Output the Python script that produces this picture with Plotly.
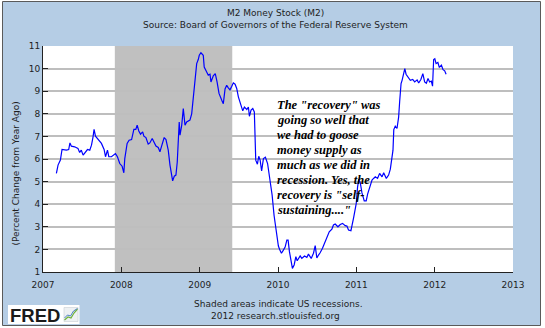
import plotly.graph_objects as go

# M2 money stock, percent change from year ago (weekly), decimal years
years = [
    2007.171, 2007.192, 2007.222, 2007.243, 2007.299, 2007.328, 2007.344, 2007.362,
    2007.404, 2007.446, 2007.468, 2007.489, 2007.512, 2007.542, 2007.568, 2007.597,
    2007.619, 2007.639, 2007.652, 2007.670, 2007.695, 2007.724, 2007.746, 2007.780,
    2007.798, 2007.823, 2007.840, 2007.874, 2007.894, 2007.925, 2007.950, 2007.980,
    2008.010, 2008.032, 2008.044, 2008.074, 2008.099, 2008.131, 2008.160, 2008.185,
    2008.202, 2008.223, 2008.245, 2008.272, 2008.288, 2008.314, 2008.343, 2008.364,
    2008.394, 2008.416, 2008.442, 2008.471, 2008.493, 2008.514, 2008.547, 2008.570,
    2008.599, 2008.621, 2008.642, 2008.655, 2008.676, 2008.697, 2008.714, 2008.726,
    2008.739, 2008.749, 2008.771, 2008.791, 2008.813, 2008.834, 2008.876, 2008.898,
    2008.918, 2008.940, 2008.962, 2008.982, 2008.995, 2009.016, 2009.033, 2009.046,
    2009.058, 2009.090, 2009.110, 2009.132, 2009.144, 2009.174, 2009.199, 2009.222,
    2009.247, 2009.282, 2009.302, 2009.324, 2009.345, 2009.366, 2009.387, 2009.410,
    2009.430, 2009.452, 2009.473, 2009.494, 2009.528, 2009.550, 2009.571, 2009.602,
    2009.622, 2009.635, 2009.656, 2009.678, 2009.698, 2009.707, 2009.716, 2009.737,
    2009.754, 2009.772, 2009.791, 2009.814, 2009.839, 2009.867, 2009.899, 2009.925,
    2009.950, 2009.969, 2009.984, 2010.005, 2010.021, 2010.044, 2010.069, 2010.091,
    2010.113, 2010.129, 2010.146, 2010.163, 2010.184, 2010.206, 2010.228, 2010.245,
    2010.261, 2010.283, 2010.304, 2010.338, 2010.368, 2010.389, 2010.424, 2010.453,
    2010.475, 2010.496, 2010.517, 2010.538, 2010.568, 2010.603, 2010.625, 2010.654,
    2010.688, 2010.708, 2010.730, 2010.765, 2010.795, 2010.824, 2010.858, 2010.880,
    2010.900, 2010.931, 2010.965, 2010.999, 2011.016, 2011.031, 2011.050, 2011.072,
    2011.101, 2011.126, 2011.144, 2011.169, 2011.200, 2011.220, 2011.242, 2011.271,
    2011.297, 2011.328, 2011.349, 2011.383, 2011.412, 2011.434, 2011.450, 2011.468,
    2011.478, 2011.497, 2011.519, 2011.540, 2011.553, 2011.571, 2011.584, 2011.604,
    2011.619, 2011.635, 2011.668, 2011.689, 2011.720, 2011.745, 2011.776, 2011.796,
    2011.824, 2011.849, 2011.872, 2011.894, 2011.915, 2011.936, 2011.957, 2011.973,
    2011.987, 2012.002, 2012.018, 2012.041, 2012.060, 2012.086, 2012.107, 2012.128,
    2012.146,
]
m2_change = [
    5.36, 5.73, 5.95, 6.42, 6.39, 6.42, 6.71, 6.57,
    6.54, 6.47, 6.29, 6.39, 6.17, 6.30, 6.42, 6.39,
    6.61, 6.98, 7.31, 7.01, 6.91, 6.80, 6.69, 6.42,
    6.10, 6.39, 6.10, 6.10, 6.17, 6.24, 6.10, 5.80,
    5.68, 5.39, 6.02, 6.69, 6.83, 6.86, 7.31, 7.31,
    7.50, 7.24, 7.10, 7.20, 7.01, 6.95, 6.66, 6.71,
    6.91, 6.76, 6.57, 6.51, 6.32, 6.57, 6.95, 6.86,
    6.39, 5.73, 5.21, 5.03, 5.24, 5.29, 5.87, 7.05,
    7.64, 7.05, 7.50, 8.23, 7.50, 7.64, 7.72, 8.00,
    8.75, 9.63, 10.22, 10.40, 10.59, 10.70, 10.66, 10.59,
    10.07, 9.80, 9.71, 9.75, 9.41, 9.68, 9.78, 9.41,
    8.90, 8.60, 8.45, 9.10, 9.26, 9.15, 9.06, 9.22,
    9.37, 9.31, 9.12, 8.75, 8.30, 8.13, 8.30, 8.19,
    8.30, 7.89, 8.16, 8.23, 8.08, 7.05, 5.95, 5.77,
    6.12, 5.95, 5.47, 6.02, 6.08, 5.80, 5.07, 4.40,
    3.50, 3.00, 2.50, 2.15, 2.00, 1.83, 1.97, 2.10,
    2.41, 2.41, 1.90, 1.60, 1.16, 1.31, 1.68, 1.50,
    1.60, 1.71, 1.60, 1.71, 1.65, 1.79, 1.60, 1.83,
    2.17, 1.62, 1.75, 1.85, 2.05, 2.34, 2.60, 2.78,
    2.90, 3.08, 3.12, 3.00, 3.10, 3.15, 3.05, 3.03,
    2.86, 2.83, 3.40, 4.04, 4.77, 5.10, 4.95, 4.50,
    4.15, 4.15, 4.45, 4.77, 5.07, 5.14, 5.21, 5.14,
    5.36, 5.21, 5.39, 5.14, 5.29, 5.55, 5.87, 6.39,
    7.30, 7.45, 7.35, 7.85, 8.53, 9.34, 9.48, 9.78,
    10.00, 9.75, 9.60, 9.48, 9.52, 9.41, 9.50, 9.36,
    9.52, 9.78, 9.41, 9.35, 9.56, 9.41, 9.45, 9.22,
    10.40, 10.44, 10.22, 10.27, 10.05, 10.15, 9.95, 9.90,
    9.75,
]

# US recession (NBER): Dec 2007 - Jun 2009
recession_start = 2007.917
recession_end = 2009.416

year_ticks = [2007, 2008, 2009, 2010, 2011, 2012, 2013]
value_ticks = [1, 2, 3, 4, 5, 6, 7, 8, 9, 10, 11]

note_lines = [
    'The "recovery" was',
    'going so well that',
    'we had to goose',
    'money supply as',
    'much as we did in',
    'recession. Yes, the',
    'recovery is "self-',
    'sustaining...."',
]

W, H = 545, 328
ML, MR, MT, MB = 43, 32, 46, 56
PW, PH = W - ML - MR, H - MT - MB


def fx(px):
    return (px - ML) / PW


def fy(py):
    return (H - MB - py) / PH


BG = "#B5CDE5"
TXT = "#1e1e1e"
SANS = "DejaVu Sans"

fig = go.Figure()
fig.add_trace(go.Scatter(
    x=years, y=m2_change, mode="lines",
    line=dict(color="#0000FF", width=1.2),
    hoverinfo="skip", showlegend=False,
))

shapes = [
    # recession shading over the grid, under the series
    dict(type="rect", xref="x", yref="paper", x0=recession_start, x1=recession_end,
         y0=0, y1=1, fillcolor="#C0C0C0", line_width=0, layer="between"),
    # white margins outside the chart frame
    dict(type="rect", xref="paper", yref="paper", x0=fx(-5), x1=fx(2.5), y0=fy(340), y1=fy(-10),
         fillcolor="white", line_width=0, layer="below"),
    dict(type="rect", xref="paper", yref="paper", x0=fx(540.5), x1=fx(560), y0=fy(340), y1=fy(-10),
         fillcolor="white", line_width=0, layer="below"),
    dict(type="rect", xref="paper", yref="paper", x0=fx(-5), x1=fx(560), y0=fy(325.5), y1=fy(340),
         fillcolor="white", line_width=0, layer="below"),
    dict(type="rect", xref="paper", yref="paper", x0=fx(-5), x1=fx(560), y0=fy(-10), y1=fy(1.5),
         fillcolor="white", line_width=0, layer="below"),
    # frame
    dict(type="rect", xref="paper", yref="paper", x0=fx(2.5), x1=fx(540.5), y0=fy(325.5), y1=fy(1.5),
         fillcolor="rgba(0,0,0,0)", line=dict(color="#5a5a5a", width=1), layer="above"),
    # FRED logo box
    dict(type="rect", xref="paper", yref="paper", x0=fx(8), x1=fx(79.5), y0=fy(324), y1=fy(305),
         fillcolor="white", line_width=0, layer="below"),
    # logo chart icon
    dict(type="rect", xref="paper", yref="paper", x0=fx(64), x1=fx(78), y0=fy(321.5), y1=fy(307.5),
         fillcolor="#EEF1F3", line=dict(color="#C8CED4", width=0.6), layer="above"),
    dict(type="path", xref="paper", yref="paper",
         path="M {} {} L {} {} L {} {} L {} {} L {} {}".format(
             fx(64.5), fy(320), fx(68), fy(317), fx(71), fy(318), fx(74), fy(313), fx(77.5), fy(309)),
         line=dict(color="#6FB23A", width=1.2), layer="above"),
    dict(type="path", xref="paper", yref="paper",
         path="M {} {} L {} {} L {} {} L {} {} L {} {}".format(
             fx(64.5), fy(318), fx(67.5), fy(315), fx(70.5), fy(316), fx(73.5), fy(311), fx(77.5), fy(308.5)),
         line=dict(color="#4D7FC4", width=1.0), layer="above"),
]

annotations = [
    dict(text="M2 Money Stock (M2)", x=fx(275), y=fy(13), xref="paper", yref="paper",
         showarrow=False, xanchor="center", yanchor="middle", font=dict(family=SANS, size=9, color=TXT)),
    dict(text="Source: Board of Governors of the Federal Reserve System", x=fx(275), y=fy(25),
         xref="paper", yref="paper", showarrow=False, xanchor="center", yanchor="middle",
         font=dict(family=SANS, size=9, color=TXT)),
    dict(text="(Percent Change from Year Ago)", x=fx(15), y=fy(173.5), xref="paper", yref="paper",
         showarrow=False, textangle=-90, xanchor="center", yanchor="middle",
         font=dict(family=SANS, size=9, color=TXT)),
    dict(text="Shaded areas indicate US recessions.", x=fx(278.5), y=fy(304), xref="paper", yref="paper",
         showarrow=False, xanchor="center", yanchor="middle", font=dict(family=SANS, size=9, color=TXT)),
    dict(text="2012 research.stlouisfed.org", x=fx(275.5), y=fy(316), xref="paper", yref="paper",
         showarrow=False, xanchor="center", yanchor="middle", font=dict(family=SANS, size=9, color=TXT)),
    dict(text="<b>FRED</b>", x=fx(8), y=fy(315), xref="paper", yref="paper",
         showarrow=False, xanchor="left", yanchor="middle",
         font=dict(family="Liberation Sans", size=18.5, color="#1a1a1a")),
]

for i, line in enumerate(note_lines):
    annotations.append(dict(
        text="<b><i>" + line + "</i></b>", x=fx(274.5), y=fy(104.5 + 15 * i),
        xref="paper", yref="paper", showarrow=False, xanchor="left", yanchor="middle",
        font=dict(family="Liberation Serif", size=12.5, color="#000000"),
    ))

fig.update_layout(
    width=W, height=H,
    margin=dict(l=ML, r=MR, t=MT, b=MB, pad=0),
    paper_bgcolor=BG, plot_bgcolor="white",
    shapes=shapes, annotations=annotations,
    xaxis=dict(
        range=[2007, 2013], tickvals=year_ticks, ticktext=[str(t) for t in year_ticks],
        ticks="inside", ticklen=5, tickcolor="#222", tickwidth=1,
        showline=True, linecolor="#222", linewidth=1, showgrid=False, zeroline=False,
        tickfont=dict(family=SANS, size=9, color=TXT), ticklabelstandoff=4, fixedrange=True,
    ),
    yaxis=dict(
        range=[1, 11], tickvals=value_ticks, ticks="inside", ticklen=5, tickcolor="#222",
        tickwidth=1, showline=True, linecolor="#222", linewidth=1,
        showgrid=True, gridcolor="#BEBEBE", gridwidth=1.5, zeroline=False,
        tickfont=dict(family=SANS, size=9, color=TXT), fixedrange=True,
    ),
)

fig.write_html("out.html", config={"displayModeBar": False})
